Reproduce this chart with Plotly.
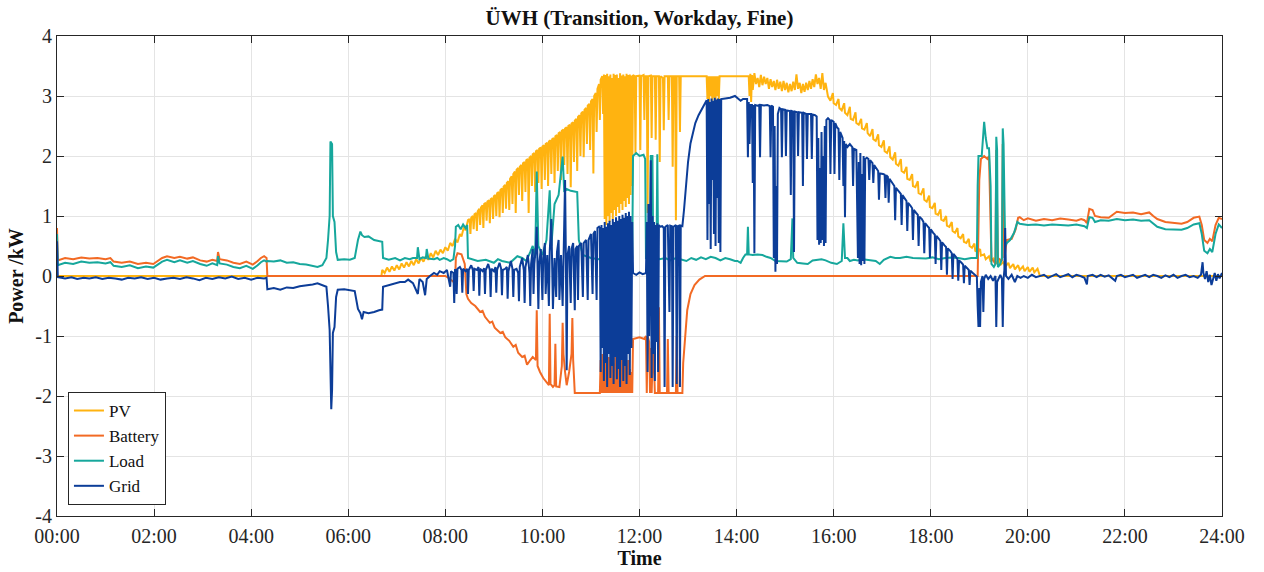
import plotly.graph_objects as go

# Time axis: minutes since midnight; power in kW
time_ticks = [0, 120, 240, 360, 480, 600, 720, 840, 960, 1080, 1200, 1320, 1440]
time_labels = ["00:00", "02:00", "04:00", "06:00", "08:00", "10:00", "12:00",
               "14:00", "16:00", "18:00", "20:00", "22:00", "24:00"]
power_ticks = [-4, -3, -2, -1, 0, 1, 2, 3, 4]
power_labels = ["-4", "-3", "-2", "-1", "0", "1", "2", "3", "4"]

pv = [
    (0, 0.0), (401, 0.0), (402, 0.10), (405, 0.05), (408, 0.14), (411, 0.07), (414, 0.16), (417, 0.09),
    (420, 0.18), (423, 0.11), (426, 0.21), (429, 0.14), (432, 0.23), (435, 0.16), (438, 0.25), (441, 0.18),
    (444, 0.28), (447, 0.21), (450, 0.30), (453, 0.24), (456, 0.33), (459, 0.27), (462, 0.38), (465, 0.31),
    (468, 0.42), (471, 0.35), (474, 0.44), (477, 0.38), (480, 0.48), (483, 0.42), (486, 0.55), (489, 0.50),
    (492, 0.62), (495, 0.56), (498, 0.70), (500, 0.66), (503, 0.82), (505, 0.76), (508, 0.93),
    (510, 0.95), (511, 0.70), (512, 0.97), (514, 1.00), (515, 0.78), (516, 1.03), (518, 1.05), (519, 0.75),
    (520, 1.08), (522, 1.12), (523, 0.85), (524, 1.14), (526, 1.18), (527, 0.80), (528, 1.20), (530, 1.22),
    (531, 0.92), (532, 1.24), (534, 1.26), (535, 0.88), (536, 1.28), (538, 1.30), (539, 0.95), (540, 1.33),
    (542, 1.35), (543, 1.00), (544, 1.38), (546, 1.40), (547, 0.98), (548, 1.43), (550, 1.46), (551, 1.05),
    (552, 1.49), (554, 1.52), (555, 1.12), (556, 1.55), (558, 1.58), (559, 1.10), (560, 1.62), (562, 1.66),
    (563, 1.20), (564, 1.70), (566, 1.74), (567, 1.05), (568, 1.77), (570, 1.80), (571, 1.35), (572, 1.82),
    (574, 1.85), (575, 1.25), (576, 1.88), (578, 1.90), (579, 1.40), (580, 1.93), (582, 1.95), (583, 1.05),
    (584, 1.97), (586, 2.00), (587, 1.50), (588, 2.03), (590, 2.05), (591, 1.40), (592, 2.08), (594, 2.10),
    (595, 1.55), (596, 2.12), (598, 2.14), (599, 1.45), (600, 2.16), (602, 2.18), (603, 1.60), (604, 2.20),
    (606, 2.22), (607, 1.50), (608, 2.24), (610, 2.26), (611, 1.70), (612, 2.28), (614, 2.30), (615, 1.55),
    (616, 2.33), (618, 2.35), (619, 1.75), (620, 2.38), (622, 2.40), (623, 1.60), (624, 2.42), (626, 2.44),
    (627, 1.85), (628, 2.46), (630, 2.48), (631, 1.70), (632, 2.50), (634, 2.52), (635, 1.48), (636, 2.54),
    (638, 2.56), (639, 1.90), (640, 2.59), (642, 2.62), (643, 1.75), (644, 2.65), (646, 2.68), (647, 2.00),
    (648, 2.71), (650, 2.74), (651, 1.98), (652, 2.77), (654, 2.80), (655, 2.20), (656, 2.84), (658, 2.87),
    (659, 2.10), (660, 2.91), (662, 2.95), (663, 1.71), (664, 3.00), (666, 3.05), (667, 2.40), (668, 3.12),
    (670, 3.20), (671, 2.60), (672, 3.27), (674, 3.33), (675, 2.70),
    (676, 3.36), (677, 0.95), (678, 3.35), (679, 0.85), (680, 3.37), (681, 1.00), (682, 3.33), (683, 0.90),
    (684, 3.36), (685, 1.05), (686, 3.30), (687, 0.95), (688, 3.37), (689, 1.10), (690, 3.35), (691, 1.00),
    (692, 3.36), (693, 1.15), (694, 3.30), (695, 1.05), (696, 3.38), (697, 1.20), (698, 3.34), (699, 1.10),
    (700, 3.36), (701, 1.25), (702, 3.33), (703, 1.15), (704, 3.37), (705, 1.30), (706, 3.35), (707, 1.20),
    (708, 3.36), (709, 1.35), (710, 3.34), (711, 1.50), (712, 3.35),
    (714, 3.33), (715, 2.05), (716, 3.33), (720, 3.34), (721, 2.10), (722, 3.33), (725, 3.35), (726, 2.60),
    (727, 3.33), (729, 3.33), (730, 1.05), (731, 3.33), (734, 3.34), (735, 2.30), (736, 3.33), (739, 3.33),
    (740, 2.27), (741, 3.33), (744, 3.33), (745, 1.90), (746, 3.33), (749, 3.30), (750, 2.43), (751, 3.33),
    (755, 3.33), (756, 2.60), (757, 3.33), (760, 3.33), (761, 1.82), (762, 3.33), (764, 3.33), (765, 0.93),
    (766, 3.33), (769, 3.33), (770, 2.40), (771, 3.33),
    (803, 3.33), (804, 2.95), (805, 3.33), (806, 2.90), (807, 3.33), (808, 3.00), (809, 3.33), (810, 2.92),
    (811, 3.33), (812, 2.97), (813, 3.33), (814, 2.93), (815, 3.33), (816, 3.00), (817, 3.33), (818, 2.95),
    (819, 3.33),
    (855, 3.33), (856, 3.00), (857, 3.37), (858, 2.90), (859, 3.35), (860, 3.10), (862, 3.38), (864, 3.20),
    (866, 3.30), (868, 3.15), (870, 3.35), (872, 3.18), (874, 3.32), (876, 3.20), (878, 3.30), (880, 3.12),
    (882, 3.28), (884, 3.15), (886, 3.25), (888, 3.10), (890, 3.27), (892, 3.12), (894, 3.24), (896, 3.08),
    (898, 3.25), (900, 3.10), (902, 3.22), (904, 3.06), (906, 3.20), (908, 3.08), (910, 3.24), (912, 3.10),
    (914, 3.36), (916, 3.12), (918, 3.22), (920, 3.05), (922, 3.20), (924, 3.07), (926, 3.22), (928, 3.10),
    (930, 3.25), (932, 3.12), (934, 3.28), (936, 3.15), (938, 3.36), (940, 3.20), (942, 3.30), (944, 3.12),
    (946, 3.38), (948, 3.10), (950, 3.22), (952, 3.00),
    (953, 2.99), (956, 2.92), (959, 3.05), (960, 2.88), (963, 2.85), (966, 2.95), (967, 2.80), (970, 2.76),
    (973, 2.88), (974, 2.72), (977, 2.68), (980, 2.82), (981, 2.62), (984, 2.60), (987, 2.73), (988, 2.55),
    (991, 2.52), (994, 2.62), (995, 2.46), (998, 2.44), (1001, 2.55), (1002, 2.38), (1005, 2.33), (1008, 2.45),
    (1009, 2.28), (1012, 2.25), (1015, 2.36), (1016, 2.18), (1019, 2.15), (1022, 2.26), (1023, 2.08),
    (1026, 2.05), (1029, 2.16), (1030, 1.98), (1033, 1.94), (1036, 2.06), (1037, 1.87), (1040, 1.84),
    (1043, 1.95), (1044, 1.75), (1047, 1.72), (1050, 1.82), (1051, 1.62), (1054, 1.60), (1057, 1.70),
    (1058, 1.50), (1061, 1.48), (1064, 1.58), (1065, 1.38), (1068, 1.36), (1071, 1.46), (1072, 1.27),
    (1075, 1.24), (1078, 1.34), (1079, 1.15), (1082, 1.13), (1085, 1.22), (1086, 1.04), (1089, 1.02),
    (1092, 1.11), (1093, 0.94), (1096, 0.92), (1099, 1.00), (1100, 0.84), (1103, 0.82), (1106, 0.90),
    (1107, 0.75), (1110, 0.72), (1113, 0.80), (1114, 0.66), (1117, 0.63), (1120, 0.70), (1121, 0.57),
    (1124, 0.55), (1127, 0.62), (1128, 0.50), (1131, 0.47), (1134, 0.54), (1135, 0.42), (1138, 0.40),
    (1141, 0.45), (1142, 0.34), (1146, 0.36), (1148, 0.28), (1152, 0.33), (1154, 0.24), (1158, 0.30),
    (1160, 0.20), (1164, 0.27), (1166, 0.18), (1170, 0.24), (1172, 0.15), (1176, 0.22), (1178, 0.13),
    (1182, 0.20), (1184, 0.11), (1188, 0.18), (1190, 0.10), (1194, 0.16), (1196, 0.08), (1200, 0.15),
    (1202, 0.07), (1206, 0.14), (1208, 0.06), (1212, 0.12), (1214, 0.04), (1215, 0.0), (1440, 0.0),
]

battery = [
    (0, 0.80), (1, 0.26), (10, 0.30), (20, 0.28), (30, 0.31), (40, 0.29), (50, 0.30), (60, 0.28), (66, 0.30),
    (70, 0.24), (80, 0.22), (90, 0.24), (100, 0.20), (110, 0.22), (119, 0.20), (125, 0.26), (130, 0.30),
    (136, 0.33), (145, 0.30), (152, 0.32), (161, 0.29), (168, 0.31), (177, 0.26), (185, 0.24), (192, 0.27),
    (198, 0.25), (199, 0.40), (201, 0.28), (210, 0.26), (218, 0.22), (226, 0.20), (234, 0.24), (242, 0.19),
    (248, 0.25), (252, 0.30), (256, 0.33), (259, 0.30), (260, 0.0),
    (480, 0.0), (484, -0.03), (488, -0.08), (492, -0.12), (493, 0.30), (495, 0.38), (500, 0.36), (504, 0.20),
    (506, -0.30), (508, -0.38), (512, -0.45), (517, -0.50), (523, -0.60), (526, -0.58), (529, -0.68),
    (535, -0.78), (538, -0.76), (541, -0.86), (548, -0.95), (551, -0.93), (554, -1.02), (559, -1.08),
    (564, -1.18), (567, -1.15), (570, -1.28), (575, -1.35), (578, -1.33), (581, -1.48), (585, -1.40),
    (588, -1.35), (592, -1.40), (593, -0.57), (594, -1.50), (597, -1.60), (601, -1.70), (606, -1.78),
    (608, -1.82), (609, -0.63), (610, -1.80), (613, -1.85), (615, -1.82), (616, -1.13), (617, -1.84),
    (621, -1.85), (624, -1.50), (625, -0.78), (626, -1.30), (628, -1.60), (630, -1.82), (633, -1.60),
    (636, -1.30), (637, -0.70), (638, -1.40), (640, -1.95), (671, -1.95),
    (672, -1.40), (673, -1.95), (674, -1.30), (675, -1.95), (676, -1.45), (677, -1.95), (678, -1.25),
    (679, -1.95), (680, -1.50), (681, -1.95), (682, -1.35), (683, -1.95), (684, -1.40), (685, -1.95),
    (686, -1.30), (687, -1.95), (688, -1.45), (689, -1.95), (690, -1.35), (691, -1.95), (692, -1.50),
    (693, -1.95), (694, -1.30), (695, -1.95), (696, -1.40), (697, -1.95), (698, -1.25), (699, -1.95),
    (700, -1.45), (701, -1.95), (702, -1.35), (703, -1.95), (704, -1.50), (705, -1.95), (706, -1.40),
    (707, -1.95), (708, -1.55), (709, -1.95), (710, -1.60), (711, -1.95),
    (712, -1.05), (720, -1.02), (726, -1.05), (728, -1.00), (729, -1.95), (730, -1.00), (732, -1.10),
    (733, -1.95), (734, -1.20), (735, -1.95), (737, -1.05), (739, -1.95), (743, -1.95), (744, -0.52),
    (745, -1.95), (754, -1.95), (755, -1.05), (756, -1.95), (765, -1.95), (766, -1.00), (767, -1.95),
    (773, -1.95), (774, -1.45), (776, -1.02), (779, -0.57), (783, -0.30), (788, -0.15), (794, -0.06),
    (801, 0.0), (1138, 0.0),
    (1140, 1.60), (1142, 1.95), (1146, 2.00), (1150, 1.95), (1152, 2.00), (1155, 0.30), (1160, 0.20),
    (1161, 2.10), (1163, 0.30), (1168, 0.25), (1169, 2.20), (1171, 0.30), (1174, 0.60), (1180, 0.62),
    (1185, 0.78), (1188, 0.97), (1190, 0.98), (1195, 0.93), (1200, 0.96), (1210, 0.92), (1220, 0.95),
    (1230, 0.93), (1240, 0.96), (1250, 0.94), (1260, 0.92), (1266, 0.95), (1270, 0.93), (1273, 0.88),
    (1276, 1.12), (1280, 1.10), (1283, 1.00), (1290, 0.98), (1300, 0.97), (1305, 1.02), (1310, 1.07),
    (1320, 1.05), (1330, 1.06), (1340, 1.03), (1350, 1.06), (1355, 1.00), (1360, 0.95), (1370, 0.90),
    (1380, 0.88), (1390, 0.87), (1397, 0.90), (1405, 0.97), (1412, 0.99), (1415, 0.85), (1418, 0.60),
    (1422, 0.55), (1425, 0.62), (1428, 0.58), (1432, 0.85), (1436, 0.97), (1440, 0.95),
]

load = [
    (0, 0.70), (1, 0.18), (10, 0.22), (20, 0.20), (30, 0.24), (40, 0.22), (50, 0.23), (60, 0.21), (66, 0.23),
    (70, 0.17), (80, 0.15), (90, 0.18), (100, 0.13), (110, 0.16), (119, 0.14), (125, 0.20), (130, 0.24),
    (136, 0.27), (145, 0.23), (152, 0.26), (161, 0.22), (168, 0.25), (177, 0.20), (185, 0.17), (192, 0.21),
    (198, 0.18), (199, 0.33), (201, 0.21), (210, 0.19), (218, 0.15), (226, 0.13), (234, 0.17), (242, 0.12),
    (248, 0.18), (252, 0.23), (256, 0.26), (259, 0.24),
    (260, 0.25), (268, 0.24), (276, 0.26), (284, 0.22), (292, 0.23), (300, 0.20), (308, 0.19), (316, 0.17),
    (322, 0.15), (328, 0.18), (333, 0.30), (335, 0.60), (337, 1.00), (338, 2.24), (340, 2.20), (341, 1.00),
    (343, 0.90), (345, 0.40), (347, 0.27), (355, 0.28), (362, 0.27), (368, 0.30), (372, 0.60), (375, 0.74),
    (377, 0.68), (380, 0.65), (385, 0.66), (392, 0.60), (398, 0.58), (402, 0.57), (403, 0.30), (410, 0.27),
    (418, 0.30), (424, 0.26), (430, 0.30), (436, 0.28), (440, 0.30), (445, 0.30), (446, 0.48), (448, 0.28),
    (452, 0.31), (456, 0.30), (457, 0.45), (459, 0.29), (466, 0.28), (470, 0.30), (473, 0.27), (478, 0.30),
    (482, 0.28), (486, 0.25), (490, 0.28), (492, 0.50), (493, 0.82), (496, 0.85), (499, 0.78), (502, 0.86),
    (505, 0.80), (507, 0.85), (508, 0.30), (512, 0.28), (520, 0.25), (530, 0.27), (540, 0.22), (545, 0.28),
    (550, 0.25), (560, 0.22), (569, 0.33), (575, 0.30), (580, 0.25), (585, 0.40), (588, 0.50), (591, 0.30),
    (593, 1.74), (595, 0.50), (600, 0.35), (605, 0.60), (609, 1.43), (611, 0.50), (615, 1.20), (620, 1.35),
    (625, 1.99), (627, 1.40), (630, 1.45), (635, 1.42), (640, 1.40), (643, 1.40), (645, 0.60), (650, 0.35),
    (660, 0.30), (670, 0.28), (690, 0.30), (711, 0.30), (712, 2.00), (716, 2.05), (720, 2.00), (725, 2.02),
    (727, 1.95), (728, 0.30), (733, 0.30), (734, 2.00), (736, 2.00), (737, 0.30), (741, 0.30), (742, 2.03),
    (743, 0.30),
    (745, 0.28), (752, 0.30), (758, 0.26), (765, 0.30), (772, 0.27), (778, 0.25), (784, 0.30), (790, 0.27),
    (796, 0.31), (802, 0.28), (808, 0.32), (814, 0.30), (820, 0.26), (826, 0.30), (832, 0.28), (838, 0.25),
    (841, 0.25), (845, 0.22), (848, 0.30), (851, 0.36), (853, 0.36), (854, 0.82), (855, 0.36), (860, 0.35),
    (866, 0.36), (872, 0.35), (877, 0.32), (882, 0.30), (888, 0.25), (895, 0.24), (902, 0.24), (907, 0.28),
    (909, 0.96), (910, 0.30), (915, 0.22), (922, 0.21), (928, 0.20), (934, 0.26), (939, 0.27), (945, 0.28),
    (950, 0.26), (957, 0.22), (964, 0.20), (970, 0.25), (972, 0.88), (974, 0.30), (977, 0.30), (980, 0.25),
    (985, 0.27), (990, 0.26), (996, 0.28), (1005, 0.27), (1012, 0.25), (1017, 0.20), (1022, 0.27),
    (1030, 0.32), (1036, 0.30), (1042, 0.30), (1050, 0.32), (1058, 0.30), (1066, 0.30), (1074, 0.29),
    (1082, 0.31), (1090, 0.28), (1098, 0.30), (1106, 0.31), (1114, 0.30), (1122, 0.28), (1130, 0.30),
    (1137, 0.30), (1138, 1.50), (1139, 2.00), (1143, 2.00), (1145, 2.30), (1146, 2.57), (1148, 2.30),
    (1150, 2.13), (1152, 2.13), (1154, 1.50), (1155, 0.20), (1158, 0.15), (1160, 0.20), (1161, 2.32),
    (1162, 2.10), (1163, 0.15), (1166, 0.20), (1168, 0.30), (1169, 2.46), (1170, 2.20), (1172, 0.50),
    (1174, 0.55), (1178, 0.60), (1183, 0.72), (1187, 0.90), (1190, 0.87), (1200, 0.85), (1210, 0.86),
    (1220, 0.84), (1230, 0.86), (1240, 0.85), (1250, 0.84), (1260, 0.86), (1270, 0.83), (1273, 0.80),
    (1276, 0.98), (1280, 0.97), (1283, 0.90), (1290, 0.93), (1300, 0.92), (1310, 0.95), (1320, 0.93),
    (1330, 0.94), (1340, 0.92), (1350, 0.93), (1355, 0.88), (1360, 0.82), (1370, 0.78), (1380, 0.77),
    (1390, 0.77), (1397, 0.80), (1405, 0.86), (1412, 0.88), (1415, 0.70), (1418, 0.42), (1422, 0.38),
    (1425, 0.45), (1428, 0.40), (1432, 0.70), (1436, 0.86), (1440, 0.80),
]

grid = [
    (0, 0.58), (1, -0.02), (10, -0.04), (18, -0.02), (25, -0.05), (33, -0.03), (40, -0.04), (48, -0.02),
    (56, -0.05), (64, -0.03), (72, -0.04), (80, -0.06), (88, -0.03), (96, -0.04), (104, -0.02), (112, -0.05),
    (120, -0.03), (128, -0.06), (136, -0.04), (144, -0.03), (152, -0.05), (160, -0.02), (168, -0.04),
    (176, -0.07), (184, -0.03), (192, -0.05), (200, -0.02), (208, -0.04), (216, -0.01), (224, -0.05),
    (232, -0.03), (240, -0.06), (248, -0.03), (256, -0.04), (259, -0.03), (260, -0.22),
    (268, -0.20), (276, -0.23), (284, -0.19), (292, -0.20), (300, -0.17), (308, -0.16), (316, -0.14),
    (322, -0.12), (328, -0.15), (333, -0.18), (335, -0.50), (337, -0.90), (339, -2.22), (340, -1.90),
    (341, -0.95), (343, -0.85), (345, -0.35), (347, -0.23), (355, -0.22), (362, -0.23), (368, -0.25),
    (372, -0.55), (375, -0.62), (377, -0.72), (379, -0.60), (385, -0.62), (392, -0.60), (398, -0.57),
    (402, -0.56), (403, -0.18), (410, -0.15), (418, -0.12), (424, -0.10), (430, -0.10), (434, -0.06),
    (440, -0.12), (446, -0.30), (448, -0.05), (452, -0.10), (455, -0.32), (457, -0.05), (461, 0.0),
    (466, 0.05), (470, 0.02), (473, 0.08), (478, 0.05), (482, 0.10), (486, -0.18), (487, 0.08), (490, 0.05),
    (491, -0.45), (492, 0.10), (493, 0.10), (494, -0.30), (495, 0.12), (498, 0.15), (500, 0.10),
    (501, -0.28), (502, 0.12), (505, 0.08), (507, 0.12), (508, -0.30), (509, 0.10), (512, 0.18), (514, 0.10),
    (515, -0.25), (516, 0.12), (519, 0.10), (521, 0.15), (522, -0.33), (523, 0.12), (526, 0.08), (528, 0.13),
    (529, -0.30), (530, 0.10), (533, 0.20), (535, 0.10), (536, -0.35), (537, 0.12), (540, 0.08), (542, 0.15),
    (543, -0.28), (544, 0.10), (547, 0.22), (549, 0.12), (550, -0.32), (551, 0.10), (554, 0.12), (556, 0.15),
    (557, -0.38), (558, 0.08), (561, 0.25), (563, 0.12), (564, -0.35), (565, 0.10), (568, 0.12), (570, 0.05),
    (571, -0.42), (572, 0.15), (575, 0.30), (577, 0.10), (578, -0.45), (579, 0.15), (582, 0.35), (584, 0.05),
    (585, -0.50), (586, 0.20), (588, 0.45), (589, -0.30), (590, 0.20), (592, 0.50), (593, 0.82), (594, 0.10),
    (595, -0.55), (596, 0.20), (598, 0.45), (600, -0.40), (601, 0.30), (603, 0.55), (604, -0.30), (606, 0.35),
    (608, -0.50), (609, 0.40), (611, 0.95), (612, 0.20), (613, -0.55), (615, 0.30), (617, -0.35), (618, 0.40),
    (620, 0.60), (621, -0.40), (623, 0.35), (625, -0.50), (626, 0.40), (628, 1.60), (629, 0.30), (630, -1.57),
    (631, 0.35), (633, 0.50), (635, -0.45), (636, 0.45), (638, 0.55), (640, -0.57), (641, 0.45), (643, 0.50),
    (644, -0.40), (645, 0.50), (648, 0.55), (650, -0.35), (651, 0.55), (654, 0.60), (656, -0.40), (657, 0.60),
    (660, 0.70), (662, -0.30), (663, 0.70), (665, 0.75), (667, -0.40), (668, 0.80), (670, 0.82),
    (671, 0.80), (672, -1.60), (673, 0.85), (674, -1.20), (675, 0.80), (676, -1.75), (677, 0.90), (678, -1.45),
    (679, 0.82), (680, -1.85), (681, 0.88), (682, -1.30), (683, 0.92), (684, -1.70), (685, 0.85), (686, -1.50),
    (687, 0.95), (688, -1.80), (689, 0.90), (690, -1.35), (691, 0.98), (692, -1.72), (693, 0.92), (694, -1.55),
    (695, 1.00), (696, -1.85), (697, 0.95), (698, -1.40), (699, 1.02), (700, -1.75), (701, 0.97), (702, -1.50),
    (703, 1.05), (704, -1.80), (705, 1.00), (706, -1.30), (707, 1.07), (708, -1.65), (709, 1.00), (710, -1.20),
    (711, 0.90), (712, 0.05), (716, 0.02), (720, 0.06), (724, 0.03), (728, 0.05),
    (729, 0.90), (730, -1.60), (731, 1.20), (732, -1.00), (733, 1.50), (734, 1.93), (735, -1.70), (736, 1.00),
    (737, -1.30), (738, 0.90), (739, -1.75), (740, 0.85), (741, -1.10), (742, 0.88), (743, -1.60), (744, 0.85),
    (745, 0.82), (748, 0.83), (750, 0.80), (751, -1.85), (752, 0.82), (755, 0.85), (757, -0.60), (758, 0.84),
    (760, 0.83), (761, -1.85), (762, 0.82), (765, 0.85), (766, -1.80), (767, 0.83), (769, 0.84), (770, -1.85),
    (771, 0.84), (773, 0.83),
    (775, 1.10), (777, 1.48), (780, 1.90), (783, 2.21), (786, 2.40), (789, 2.55), (793, 2.68), (797, 2.78),
    (801, 2.88), (803, 2.93),
    (804, 0.60), (805, 2.95), (806, 1.20), (807, 2.90), (808, 0.45), (809, 2.96), (810, 1.60), (811, 2.92),
    (812, 0.70), (813, 2.97), (814, 0.50), (815, 2.94), (816, 1.30), (817, 2.96), (818, 0.55), (819, 2.95),
    (820, 0.40), (821, 2.95), (826, 2.96), (832, 2.97), (838, 3.00), (841, 2.96), (845, 2.92), (848, 2.95),
    (852, 2.96), (853, 2.95), (854, 1.98), (855, 2.90), (856, 2.20), (857, 2.85), (859, 2.85), (860, 1.55),
    (861, 2.85), (862, 0.38), (863, 2.85), (866, 2.84), (868, 2.85), (869, 1.98), (870, 2.85), (874, 2.84),
    (878, 2.85), (881, 2.83), (882, 1.98), (883, 2.84), (885, 2.82), (886, 0.30), (887, 2.50), (888, 0.07),
    (889, 1.50), (890, 0.20), (891, 2.70), (893, 2.80), (895, 2.78), (896, 1.98), (897, 2.78), (900, 2.77),
    (901, 2.00), (902, 2.76), (906, 2.75), (907, 1.35), (908, 2.75), (910, 2.74), (911, 0.40), (912, 2.74),
    (915, 2.73), (916, 2.00), (917, 2.73), (921, 2.72), (922, 1.50), (923, 2.72), (926, 2.70), (927, 1.95),
    (928, 2.70), (932, 2.70), (933, 1.95), (934, 2.69), (937, 2.68),
    (939, 2.66), (940, 0.60), (941, 2.30), (942, 0.52), (943, 1.80), (944, 0.55), (945, 2.40), (946, 0.60),
    (947, 2.00), (948, 0.50), (949, 2.50), (950, 0.55), (951, 2.60), (953, 2.63), (955, 2.60), (956, 1.70),
    (957, 2.60), (960, 2.57), (961, 1.70), (962, 2.55), (964, 2.48), (966, 2.45), (967, 1.60), (968, 2.40),
    (971, 2.30), (972, 1.50), (973, 2.25), (974, 0.98), (975, 2.20), (977, 2.15), (980, 2.20), (983, 2.15),
    (984, 1.50), (985, 2.12), (988, 2.10), (990, 0.30), (991, 1.90), (992, 0.20), (993, 2.05), (994, 0.18),
    (995, 1.70), (996, 0.25), (997, 2.00), (998, 0.20), (999, 1.95), (1001, 1.97), (1003, 1.95), (1004, 1.60),
    (1005, 1.93), (1008, 1.88), (1009, 1.55), (1010, 1.85), (1013, 1.78), (1015, 1.75), (1016, 1.27),
    (1017, 1.71), (1021, 1.70), (1023, 1.69), (1024, 1.30), (1025, 1.68), (1027, 1.65), (1028, 1.22),
    (1029, 1.62), (1032, 1.56), (1035, 1.50), (1036, 0.93), (1037, 1.47), (1040, 1.42), (1043, 1.37),
    (1044, 0.85), (1045, 1.35), (1048, 1.29), (1050, 1.25), (1051, 0.75), (1052, 1.22), (1055, 1.17),
    (1057, 1.13), (1058, 0.60), (1059, 1.10), (1062, 1.05), (1064, 1.02), (1065, 0.50), (1066, 0.99),
    (1069, 0.95), (1071, 0.90), (1072, 0.38), (1073, 0.88), (1076, 0.83), (1078, 0.80), (1079, 0.30),
    (1080, 0.78), (1083, 0.72), (1085, 0.69), (1086, 0.20), (1087, 0.67), (1090, 0.62), (1092, 0.58),
    (1093, 0.10), (1094, 0.56), (1097, 0.51), (1099, 0.48), (1100, 0.02), (1101, 0.46), (1104, 0.42),
    (1106, 0.38), (1107, -0.05), (1108, 0.37), (1111, 0.32), (1113, 0.28), (1114, -0.08), (1115, 0.26),
    (1118, 0.22), (1120, 0.19), (1121, -0.12), (1122, 0.17), (1125, 0.13), (1127, 0.10), (1128, -0.15),
    (1129, 0.09), (1132, 0.05), (1135, 0.02), (1137, -0.01),
    (1138, -0.50), (1139, -0.85), (1140, -0.20), (1141, -0.85), (1142, -0.10), (1144, 0.0), (1145, -0.60),
    (1146, -0.05), (1148, 0.02), (1151, -0.05), (1154, 0.0), (1157, -0.08), (1160, 0.0), (1161, -0.85),
    (1162, -0.10), (1164, -0.05), (1166, 0.02), (1168, -0.05), (1169, -0.85), (1170, -0.05), (1171, 0.10),
    (1172, 0.80), (1173, 0.0), (1176, -0.05), (1180, 0.02), (1184, -0.10), (1187, 0.0), (1191, -0.03),
    (1195, 0.0), (1200, -0.03), (1205, 0.02), (1210, -0.02), (1215, 0.0), (1220, 0.02), (1225, -0.03),
    (1230, 0.0), (1235, 0.03), (1240, -0.02), (1245, 0.01), (1250, 0.03), (1255, -0.02), (1260, 0.02),
    (1265, 0.0), (1270, -0.03), (1273, -0.14), (1274, 0.0), (1280, 0.02), (1285, -0.02), (1290, 0.02),
    (1295, -0.01), (1300, 0.01), (1305, -0.04), (1308, -0.08), (1310, 0.0), (1315, 0.02), (1320, -0.02),
    (1325, 0.0), (1330, 0.02), (1335, -0.03), (1340, 0.0), (1345, 0.02), (1350, -0.02), (1355, 0.02),
    (1360, 0.0), (1365, -0.03), (1370, 0.01), (1375, -0.02), (1380, 0.02), (1385, -0.03), (1390, 0.0),
    (1395, 0.02), (1400, -0.02), (1405, 0.0), (1410, -0.03), (1414, 0.02), (1416, 0.23), (1417, 0.05),
    (1419, -0.05), (1421, 0.08), (1423, -0.10), (1425, 0.02), (1427, -0.15), (1429, -0.02), (1431, 0.05),
    (1433, -0.08), (1435, 0.03), (1437, -0.04), (1440, 0.05),
]

series = [
    ("PV", pv, "#FFB310"),
    ("Battery", battery, "#F26A24"),
    ("Load", load, "#16A79C"),
    ("Grid", grid, "#0C3D98"),
]

FONT = "Liberation Serif"
INK = "#262626"

fig = go.Figure()
for name, pts, color in series:
    t, v = zip(*pts)
    fig.add_trace(go.Scatter(
        x=list(t), y=list(v), mode="lines", name=name,
        line=dict(color=color, width=2),
    ))

fig.update_layout(
    width=1264, height=572,
    margin=dict(l=57, r=42, t=36, b=56),
    paper_bgcolor="white", plot_bgcolor="white",
    font=dict(family=FONT, size=20, color=INK),
    title=dict(text="<b>ÜWH (Transition, Workday, Fine)</b>", x=0.5, xref="paper",
               xanchor="center", y=1 - 18 / 572, yanchor="middle",
               font=dict(family=FONT, size=21, color="#111111")),
    showlegend=True,
    legend=dict(x=0.0094, y=0.023, xanchor="left", yanchor="bottom",
                bgcolor="white", bordercolor=INK, borderwidth=1,
                font=dict(family=FONT, size=17, color="#111111"),
                itemwidth=30, tracegroupgap=0),
)

fig.update_xaxes(
    range=[0, 1440], tickvals=time_ticks, ticktext=time_labels, automargin=False,
    ticks="inside", ticklen=7, tickwidth=1, tickcolor=INK,
    showline=True, linecolor=INK, linewidth=1, mirror="ticks",
    showgrid=True, gridcolor="#E4E4E4", gridwidth=1, zeroline=False,
    tickfont=dict(family=FONT, size=20, color=INK), ticklabelstandoff=2,
    title=dict(text="<b>Time</b>", font=dict(family=FONT, size=20, color="#111111"), standoff=4),
)
fig.update_yaxes(
    range=[-4, 4], tickvals=power_ticks, ticktext=power_labels, automargin=False,
    ticks="inside", ticklen=7, tickwidth=1, tickcolor=INK,
    showline=True, linecolor=INK, linewidth=1, mirror="ticks",
    showgrid=True, gridcolor="#E4E4E4", gridwidth=1, zeroline=False,
    tickfont=dict(family=FONT, size=20, color=INK),
    title=dict(text="<b>Power /kW</b>", font=dict(family=FONT, size=20, color="#111111"), standoff=6),
)

fig.write_html("out.html")
